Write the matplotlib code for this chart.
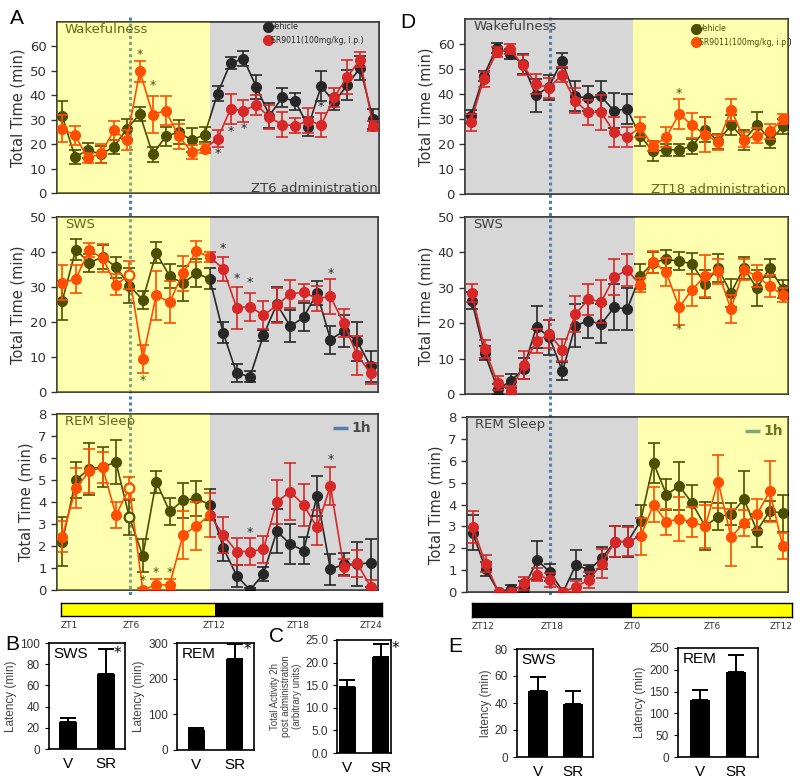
import numpy as np
import matplotlib.pyplot as plt
from matplotlib.lines import Line2D

W, H = 800, 780

# ---------------- panel A : ZT6 administration ----------------
a_wake_veh = [31.7, 14.8, 17.5, 15.9, 18.9, 26.3, 32.3, 15.8, 23.2, 24.9, 21.6, 23.9,
              40.7, 53.2, 55.0, 43.4, 31.7, 39.1, 37.5, 27.2, 43.8, 37.1, 44.2, 51.2, 30.3]
a_wake_veh_err = [6, 3, 3, 3.5, 3, 4, 3, 3, 4, 5, 5, 3, 3, 2.5, 3, 5, 5, 4, 3.5, 4, 6, 3, 6, 5, 4]
a_wake_sr = [26.3, 23.6, 14.2, 16.2, 25.6, 21.6, 49.9, 32.1, 33.7, 23.2, 16.8, 18.2,
             22.2, 34.4, 33.7, 36.1, 31.0, 28.0, 27.6, 29.6, 27.9, 39.1, 47.4, 54.6, 27.4]
a_wake_sr_err = [5.5, 4, 2, 4, 4, 4, 4.3, 7.5, 6, 5, 3, 2, 3.5, 6, 4.5, 4, 5, 5, 3, 5, 5, 4, 7, 3, 2]
a_wake_stars = [(6, 56.6), (7, 44.0), (12, 16.2), (13, 25.0), (14, 26.3), (20, 35.3)]

a_sws_veh = [26.1, 40.7, 36.9, 38.6, 35.7, 30.4, 26.3, 39.8, 33.1, 31.1, 33.9, 32.3,
             16.9, 5.4, 4.4, 16.2, 25.1, 18.8, 21.3, 28.3, 15.0, 17.4, 14.5, 7.3]
a_sws_veh_err = [5.5, 3, 2.5, 3.5, 3, 5, 2.5, 3, 3.5, 5, 4, 3, 3, 2.5, 1.5, 1.5, 5, 4.5,
                 4, 3.5, 4, 4.5, 5.5, 4.5]
a_sws_sr = [31.2, 32.3, 40.5, 38.3, 30.6, 33.5, 9.5, 27.7, 25.6, 34.0, 40.2, 38.6,
            35.2, 24.1, 24.4, 21.9, 24.8, 28.0, 28.5, 26.7, 27.3, 19.6, 10.5, 5.4]
a_sws_sr_err = [5, 4, 2, 4, 3, 4, 4, 7, 6, 5, 3, 1.5, 3.5, 6, 4, 4, 5, 4, 2.5, 3.5, 5, 4, 5.5, 3]
a_sws_stars = [(12, 41.0), (13, 32.3), (14, 31.3), (20, 33.8), (6, 3.2)]

a_rem_veh = [2.2, 5.0, 5.5, 5.6, 5.8, 3.3, 1.55, 4.93, 3.57, 4.07, 4.17, 3.87,
             1.93, 0.65, 0.0, 0.73, 2.66, 2.09, 1.79, 4.28, 0.94, 1.17, 1.17, 1.24]
a_rem_veh_err = [1.1, 0.8, 1.2, 0.9, 1.0, 0.8, 0.75, 0.5, 0.6, 0.8, 0.8, 0.7,
                 0.6, 0.5, 0.1, 0.3, 1.0, 0.9, 0.6, 0.9, 0.7, 0.5, 1.0, 1.1]
a_rem_sr = [2.43, 4.63, 5.39, 5.57, 3.41, 4.63, 0.0, 0.23, 0.23, 2.5, 2.91, 3.41,
            2.5, 1.75, 1.75, 1.85, 4.02, 4.46, 3.87, 2.85, 4.73, 1.03, 1.21, 0.15]
a_rem_sr_err = [0.7, 0.9, 1.0, 0.7, 0.6, 0.5, 0.1, 0.25, 0.25, 1.1, 1.1, 1.0,
                0.8, 0.6, 0.6, 0.6, 1.0, 1.3, 0.95, 0.8, 0.85, 0.4, 0.6, 0.3]
a_rem_stars = [(6, 0.45), (7, 0.8), (8, 0.8), (14, 2.6), (20, 5.95)]

# ---------------- panel D : ZT18 administration ----------------
d_wake_veh = [31.1, 47.3, 58.6, 56.1, 52.1, 39.5, 42.8, 53.3, 39.1, 38.4, 39.1, 33.3,
              34.0, 23.3, 17.1, 17.7, 17.7, 19.1, 25.7, 21.1, 27.7, 21.7, 27.7, 21.5, 27.1]
d_wake_veh_err = [2.5, 2, 2, 2, 4, 6.5, 5, 3, 6, 5, 6, 7, 6, 4, 4, 2.5, 2.5, 3, 5, 3, 4, 4, 5, 3, 3]
d_wake_sr = [28.7, 46.0, 56.7, 58.0, 51.5, 44.1, 42.4, 47.7, 37.3, 32.7, 32.7, 24.8,
             22.7, 26.7, 19.1, 22.7, 32.0, 27.5, 23.7, 20.7, 33.7, 21.7, 23.3, 25.1, 30.1]
d_wake_sr_err = [3.5, 3, 2, 2, 4, 4, 4, 3, 5, 5, 7, 6, 4, 4, 2, 4, 6, 5, 7, 3, 4.5, 3, 3, 3, 2]
d_wake_stars = [(16, 40.4)]

d_sws_veh = [26.4, 11.5, 1.4, 3.6, 7.1, 19.0, 16.0, 6.4, 19.3, 20.7, 19.8, 24.5,
             24.0, 33.3, 37.1, 38.1, 37.5, 36.8, 31.1, 35.6, 28.5, 35.6, 29.9, 35.6, 29.7]
d_sws_veh_err = [2.5, 2, 1.5, 2, 3, 6, 5, 2.5, 6, 5, 5.5, 6.5, 6, 3.5, 3, 2.5, 2.5, 3,
                 4, 4, 4, 3, 5, 2.5, 2.5]
d_sws_sr = [28.5, 12.8, 3.1, 0.9, 8.1, 15.0, 16.9, 12.4, 22.6, 26.7, 26.1, 33.0,
            35.1, 30.7, 37.3, 34.5, 24.5, 29.4, 33.3, 34.7, 24.0, 35.1, 33.3, 30.5, 28.0]
d_sws_sr_err = [2.5, 2.5, 2, 1.5, 4, 3.5, 4, 3, 5, 4.5, 6, 5, 4.5, 2, 3, 4, 5, 4.5, 6,
                3.5, 4, 3, 3, 3, 2]
d_sws_stars = [(16, 18.3)]

d_rem_veh = [2.7, 1.05, 0.0, 0.15, 0.25, 1.45, 0.9, 0.0, 1.25, 1.0, 1.55, 2.3,
             2.3, 3.25, 5.9, 4.45, 4.85, 4.05, 3.0, 3.45, 3.55, 4.25, 2.8, 3.7, 3.6]
d_rem_veh_err = [0.8, 0.3, 0, 0.15, 0.25, 0.9, 0.4, 0, 0.65, 0.25, 0.5, 0.7, 0.7, 0.75,
                 0.9, 0.7, 1.1, 0.85, 1.1, 0.6, 0.5, 1.3, 0.75, 0.45, 0.85]
d_rem_sr = [2.97, 1.3, 0.0, 0.0, 0.4, 0.8, 0.55, 0.0, 0.25, 0.55, 1.3, 2.3,
            2.3, 2.55, 4.0, 3.2, 3.35, 3.2, 3.0, 5.05, 2.5, 3.15, 3.55, 4.6, 2.1]
d_rem_sr_err = [0.75, 0.4, 0, 0, 0.3, 0.3, 0.3, 0, 0.25, 0.35, 0.65, 0.7, 0.65, 0.85,
                0.8, 0.6, 1.0, 0.7, 1.0, 1.2, 1.3, 0.6, 0.7, 1.4, 0.6]

# ---------------- latency / activity bars ----------------
groups = ["V", "SR"]
b_sws = [25.8, 71.0]
b_sws_err = [3.2, 23.0]
b_rem = [56, 256]
b_rem_err = [6, 40]
c_act = [14.5, 21.2]
c_act_err = [1.6, 2.9]
e_sws = [48.9, 39.0]
e_sws_err = [10.2, 10.2]
e_rem = [131, 194]
e_rem_err = [23, 39]

legend_labels = ["Vehicle", "SR9011(100mg/kg, i.p.)"]
a_zt_labels = ["ZT1", "ZT6", "ZT12", "ZT18", "ZT24"]
a_zt_hours = [1, 6, 12, 18, 24]
d_zt_labels = ["ZT12", "ZT18", "ZT0", "ZT6", "ZT12"]
d_zt_hours = [12, 18, 24, 30, 36]

YELLOW = "#ffff00"
GRAY = "#808080"
BLUE = "#4a7ebb"

fig = plt.figure(figsize=(8, 7.8), dpi=100)
fig.patch.set_facecolor("white")


def px_axes(x0, y0, x1, y1):
    return fig.add_axes([x0 / W, 1 - y1 / H, (x1 - x0) / W, (y1 - y0) / H])


def trace_panel(ax, veh, veh_err, sr, sr_err, xlim, split, first, ylim, yticks,
                title, stars, hollow=()):
    ax.set_facecolor("none")
    x = np.arange(len(veh))
    ax.errorbar(x, veh, yerr=veh_err, fmt="-o", color="black", ms=7, lw=1.2,
                elinewidth=1.2, capsize=4, capthick=1.2, zorder=3)
    ax.errorbar(x, sr, yerr=sr_err, fmt="-o", color="red", ms=7, lw=1.2,
                elinewidth=1.2, capsize=4, capthick=1.2, zorder=3.5)
    for series, i in hollow:
        col = "black" if series == "veh" else "red"
        val = veh[i] if series == "veh" else sr[i]
        ax.plot(x[i], val, "o", ms=7, mfc="white", mec=col, mew=1.6, zorder=4)
    for i, y in stars:
        ax.text(i, y, "*", ha="center", va="center", fontsize=9, zorder=4)
    second = GRAY if first == YELLOW else YELLOW
    ax.axvspan(xlim[0], split, color=first, alpha=0.31, lw=0, zorder=10)
    ax.axvspan(split, xlim[1], color=second, alpha=0.31, lw=0, zorder=10)
    ax.set_xlim(*xlim)
    ax.set_ylim(*ylim)
    ax.set_yticks(yticks)
    ax.set_xticks([])
    ax.tick_params(axis="y", labelsize=9.5, labelcolor="#333333", length=4,
                   width=1, color="#333333")
    ax.set_ylabel("Total Time (min)", fontsize=10.5, color="#333333", labelpad=3)
    for s in ax.spines.values():
        s.set_color("#333333")
        s.set_linewidth(1.3)
    ax.text(0.025, 0.955, title, transform=ax.transAxes, fontsize=9.5,
            color="#222222", ha="left", va="center", zorder=3)


def legend(ax, anchor):
    handles = [Line2D([], [], marker="o", ls="none", color="black", ms=7),
               Line2D([], [], marker="o", ls="none", color="red", ms=7)]
    ax.legend(handles, legend_labels, loc="upper left", bbox_to_anchor=anchor,
              frameon=False, fontsize=5.6, handlelength=0.6, handletextpad=0.1,
              labelspacing=0.55, borderpad=0.2)


def hour_key(ax, x0, x1, y):
    ax.plot([x0, x1], [y, y], color=BLUE, lw=2.5, transform=ax.transAxes,
            solid_capstyle="butt", zorder=3)
    ax.text(x1 + 0.012, y, "1h", transform=ax.transAxes, fontsize=10,
            fontweight="bold", color="#333333", va="center", ha="left", zorder=3)


def light_bar(ax, hours, labels, first, split):
    lo, hi = hours[0], hours[-1]
    ax.axvspan(lo, split, color=first, lw=0)
    ax.axvspan(split, hi, color="black" if first == YELLOW else YELLOW, lw=0)
    ax.set_xlim(lo, hi)
    ax.set_ylim(0, 1)
    ax.set_yticks([])
    ax.set_xticks([])
    for s in ax.spines.values():
        s.set_linewidth(1)
    for k, (h, lab) in enumerate(zip(hours, labels)):
        ha = "left" if k == 0 else ("right" if k == len(hours) - 1 else "center")
        ax.text(h, -0.35, lab, ha=ha, va="top", fontsize=6.5, color="#333333")


# ----- panel A -----
ax = px_axes(57, 22, 379, 193)
trace_panel(ax, a_wake_veh, a_wake_veh_err, a_wake_sr, a_wake_sr_err, (-0.39, 24.46),
            11.42, YELLOW, (0, 70), range(0, 61, 10), "Wakefulness", a_wake_stars)
legend(ax, (0.63, 1.03))
ax.text(0.995, -0.01, "ZT6 administration", transform=ax.transAxes, fontsize=9.5,
        color="#222222", ha="right", va="bottom", zorder=3)

ax = px_axes(57, 217, 378, 392)
trace_panel(ax, a_sws_veh, a_sws_veh_err, a_sws_sr, a_sws_sr_err, (-0.40, 23.55),
            11.0, YELLOW, (0, 50), range(0, 51, 10), "SWS", a_sws_stars,
            hollow=[("sr", 5)])

ax = px_axes(57, 414, 378, 590)
trace_panel(ax, a_rem_veh, a_rem_veh_err, a_rem_sr, a_rem_sr_err, (-0.40, 23.55),
            11.0, YELLOW, (0, 8), range(0, 9), "REM Sleep", a_rem_stars,
            hollow=[("veh", 5), ("sr", 5)])
hour_key(ax, 0.86, 0.905, 0.92)

ax = px_axes(61, 603, 382, 616)
light_bar(ax, a_zt_hours, a_zt_labels, YELLOW, 12)

# ----- panel D -----
ax = px_axes(465, 19, 788, 194)
trace_panel(ax, d_wake_veh, d_wake_veh_err, d_wake_sr, d_wake_sr_err, (-0.44, 24.36),
            12.49, GRAY, (0, 70), range(0, 61, 10), "Wakefulness", d_wake_stars)
legend(ax, (0.69, 1.0))
ax.text(0.995, -0.01, "ZT18 administration", transform=ax.transAxes, fontsize=9.5,
        color="#222222", ha="right", va="bottom", zorder=3)

ax = px_axes(465, 217, 788, 394)
trace_panel(ax, d_sws_veh, d_sws_veh_err, d_sws_sr, d_sws_sr_err, (-0.52, 24.41),
            12.6, GRAY, (0, 50), range(0, 51, 10), "SWS", d_sws_stars)

ax = px_axes(467, 417, 788, 592)
trace_panel(ax, d_rem_veh, d_rem_veh_err, d_rem_sr, d_rem_sr_err, (-0.44, 24.41),
            12.83, GRAY, (0, 8), range(0, 9), "REM Sleep", [])
hour_key(ax, 0.866, 0.913, 0.92)

ax = px_axes(472, 603, 792, 617)
light_bar(ax, d_zt_hours, d_zt_labels, "black", 24)

# dotted 1h marker lines spanning each column
for xp in (129.5, 549.5):
    fig.add_artist(Line2D([xp / W, xp / W], [1 - 17 / H, 1 - 596 / H],
                          transform=fig.transFigure, color=BLUE, lw=2.2,
                          ls=(0, (1, 1)), zorder=-1))


# ----- bar panels -----
def bar_panel(ax, vals, errs, ylim, yticks, ylabel, title=None, star=None,
              xlim=(-0.5, 1.5), width=0.45, fmt="{:g}", ylabel_size=8.5):
    x = np.arange(len(vals))
    ax.bar(x, vals, width, color="black", zorder=2)
    ax.errorbar(x, vals, yerr=[[0] * len(errs), errs], fmt="none", ecolor="black",
                elinewidth=1.4, capsize=6, capthick=1.4, zorder=2)
    ax.set_xlim(*xlim)
    ax.set_ylim(*ylim)
    ax.set_yticks(yticks)
    ax.set_yticklabels([fmt.format(t) for t in yticks], fontfamily="Liberation Sans")
    ax.set_xticks(x)
    ax.set_xticklabels(groups, fontsize=11, fontfamily="Liberation Sans")
    ax.tick_params(axis="x", length=0, pad=6)
    ax.tick_params(axis="y", labelsize=8.5, length=3, labelcolor="#333333")
    ax.set_ylabel(ylabel, fontsize=ylabel_size, color="#444444", labelpad=2,
                  fontfamily="Liberation Sans", linespacing=1.1)
    for s in ax.spines.values():
        s.set_linewidth(1.2)
    if title:
        ax.text(0.06, 0.9, title, transform=ax.transAxes, fontsize=11,
                fontfamily="Liberation Sans", ha="left", va="center")
    if star:
        ax.text(star[0], star[1], "*", fontsize=11, ha="center", va="center",
                clip_on=False)


ax = px_axes(49, 643, 125, 749)
bar_panel(ax, b_sws, b_sws_err, (0, 100), [0, 20, 40, 60, 80, 100], "Latency (min)",
          "SWS", star=(1.3, 90))
ax = px_axes(177, 643, 254, 750)
bar_panel(ax, b_rem, b_rem_err, (0, 300), [0, 100, 200, 300], "Latency (min)",
          "REM", star=(1.32, 282))
ax = px_axes(337, 640, 391, 753)
bar_panel(ax, c_act, c_act_err, (0, 25), [0, 5, 10, 15, 20, 25],
          "Total Activity 2h\npost administration\n(arbitrary units)",
          star=(1.42, 23.2), xlim=(-0.3, 1.3), width=0.5, fmt="{:.1f}",
          ylabel_size=7)
ax = px_axes(517, 649, 593, 757)
bar_panel(ax, e_sws, e_sws_err, (0, 80), [0, 20, 40, 60, 80], "latency (min)",
          "SWS", xlim=(-0.6, 1.57), width=0.57)
ax = px_axes(678, 648, 758, 757)
bar_panel(ax, e_rem, e_rem_err, (0, 250), [0, 50, 100, 150, 200, 250], "Latency (min)",
          "REM", xlim=(-0.6, 1.6), width=0.55)

# panel letters
for lab, xp, yp in [("A", 17, 18), ("D", 408, 22), ("B", 12, 645), ("C", 276, 636),
                    ("E", 455, 646)]:
    fig.text(xp / W, 1 - yp / H, lab, fontsize=15, ha="center", va="center",
             fontfamily="Liberation Sans")

fig.savefig("out.png", dpi=100)
